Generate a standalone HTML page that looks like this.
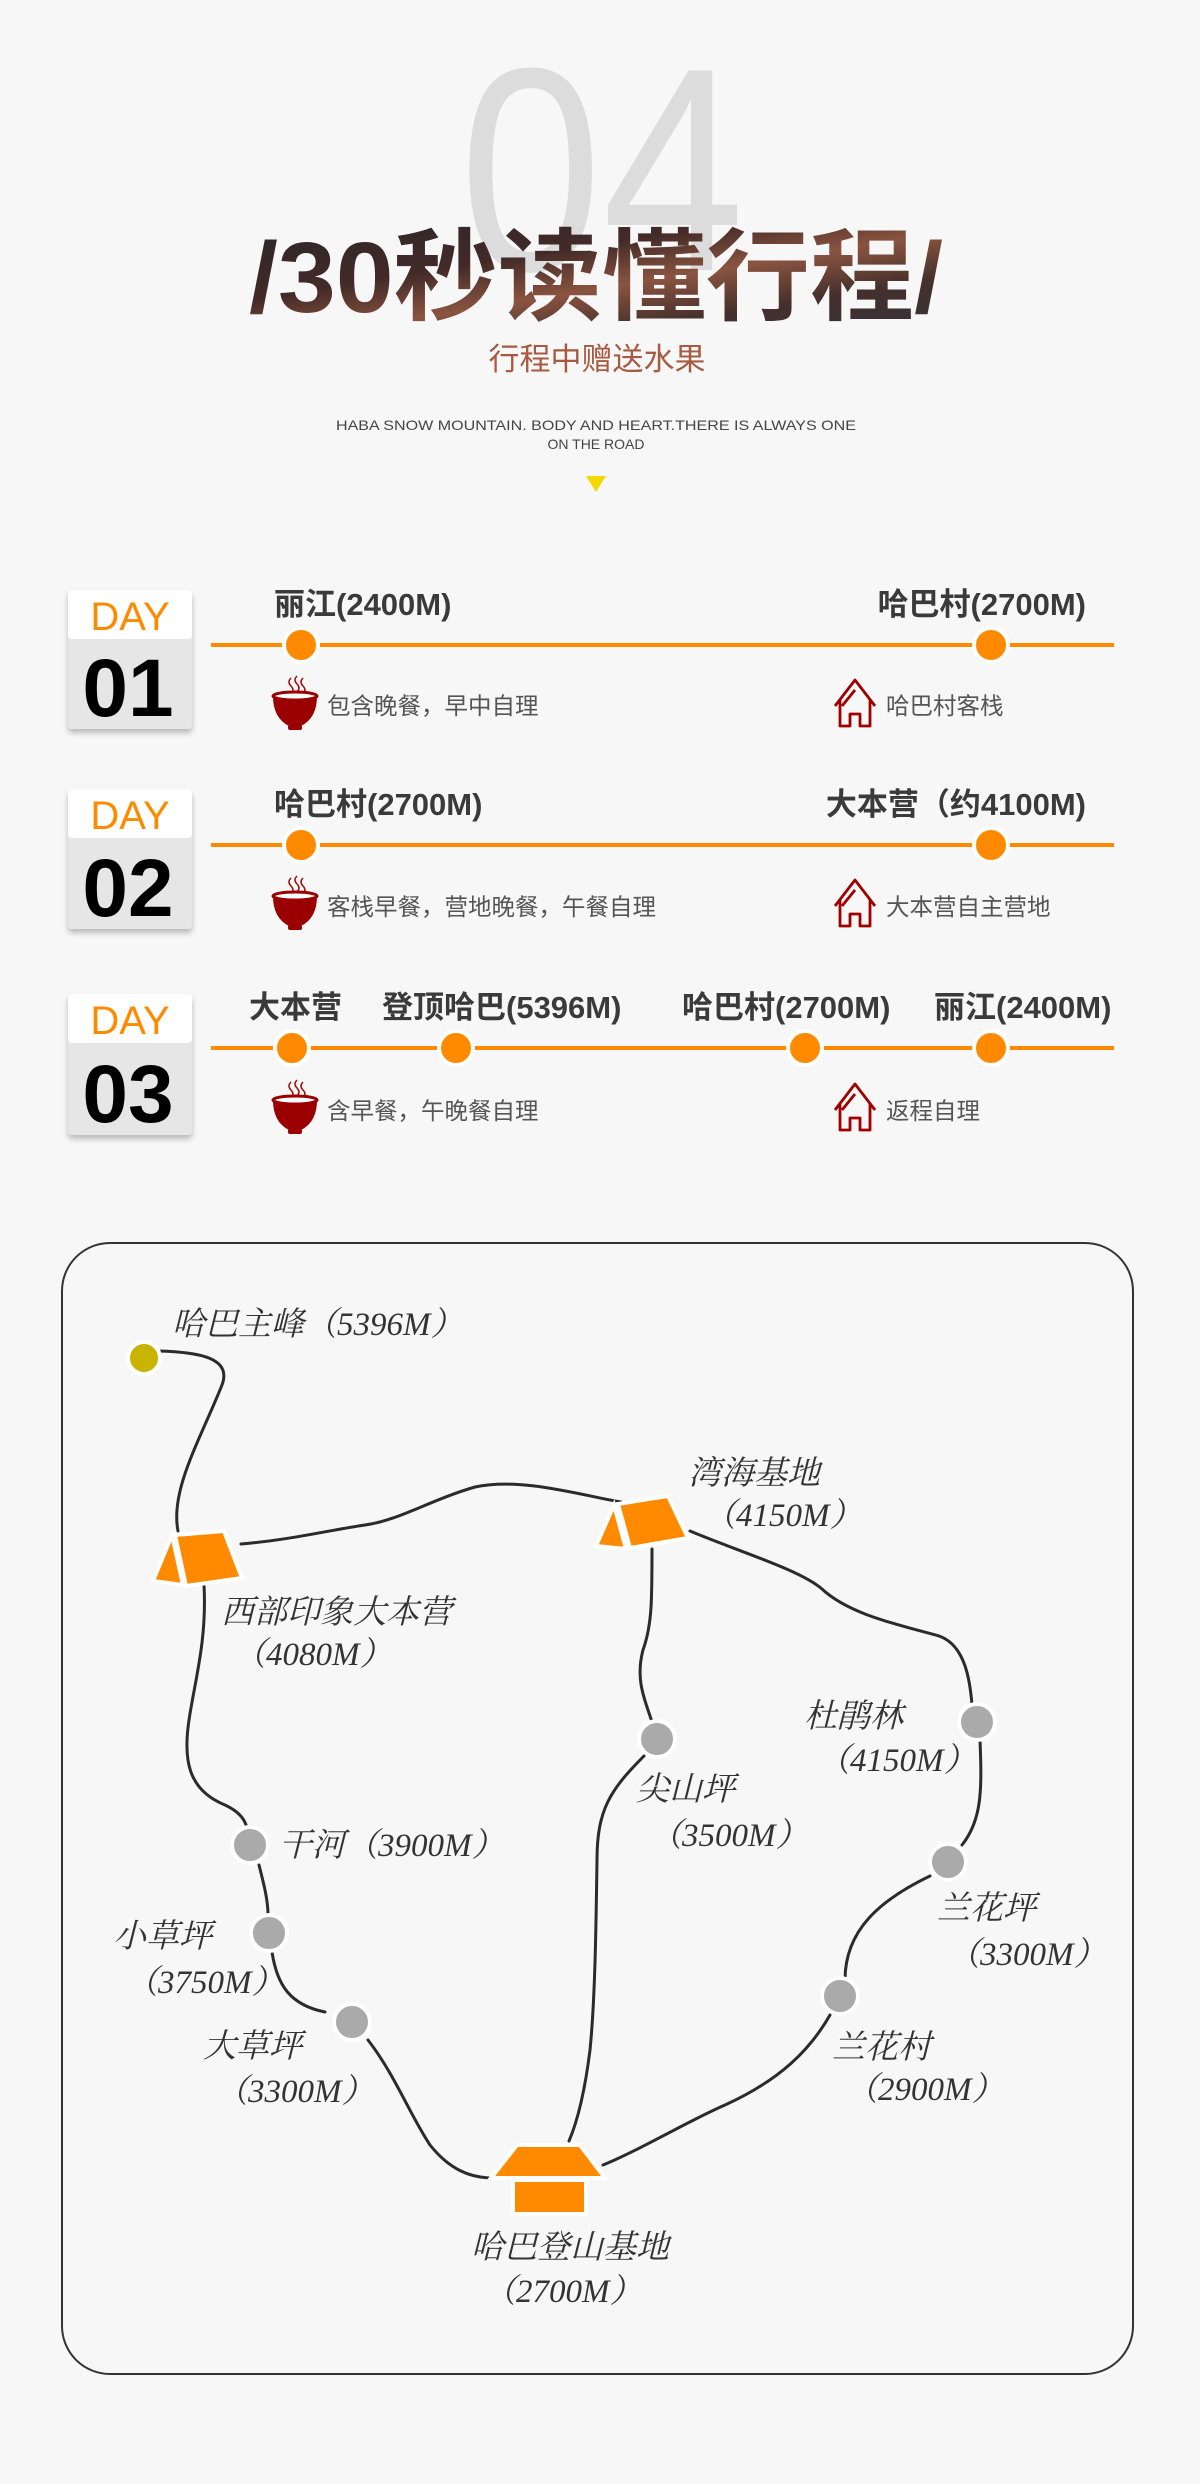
<!DOCTYPE html>
<html><head><meta charset="utf-8"><style>
html,body{margin:0;padding:0;background:#f7f7f7;}
svg{display:block;}
.cn{font-family:"Liberation Sans","Noto Sans CJK SC",sans-serif;}
.lb{font-family:"Liberation Sans","Noto Sans CJK SC",sans-serif;font-weight:bold;font-size:31px;fill:#3a3a3a;}
.it{font-family:"Liberation Sans","Noto Sans CJK SC",sans-serif;font-size:23.5px;fill:#555;}
.mp{font-family:"Liberation Serif","Noto Serif CJK SC",serif;font-style:italic;font-size:33px;fill:#333;}
</style></head><body>
<svg width="1200" height="2484" viewBox="0 0 1200 2484" xmlns="http://www.w3.org/2000/svg">
<defs>
<linearGradient id="tg" x1="0" y1="0" x2="1" y2="1">
<stop offset="0" stop-color="#2a2628"/><stop offset="0.35" stop-color="#432a28"/>
<stop offset="0.55" stop-color="#8a5440"/><stop offset="0.75" stop-color="#45302c"/><stop offset="1" stop-color="#33333c"/>
</linearGradient>
<filter id="sh" x="-20%" y="-20%" width="140%" height="150%"><feDropShadow dx="0" dy="4" stdDeviation="3" flood-color="#000" flood-opacity="0.25"/></filter>
<g id="bowl">
<path d="M-3,-24 q-4,4 0,8 q4,4 0,8 M3,-26 q-4,4 0,8 q4,4 0,8 M9,-24 q-4,4 0,8 q4,4 0,8" stroke="#a01010" stroke-width="1.5" fill="none"/>
<path d="M-21,-6 h44 q0,22 -16,30 h-12 q-16,-8 -16,-30z" fill="#9b0000"/>
<ellipse cx="1" cy="-6" rx="22" ry="4" fill="#fff" stroke="#9b0000" stroke-width="3"/>
<rect x="-6" y="23" width="14" height="5" rx="2" fill="#9b0000"/>
</g>
<g id="house" fill="none" stroke="#a00000" stroke-width="2.8" stroke-linejoin="round">
<path d="M-20,4 L0,-22 L20,4 M-15,-2 V24 H-5 V12 H5 V24 H15 V-2"/>
<path d="M-13,4 L0,-12"/>
</g>
</defs>

<!-- header -->
<text x="602" y="270" text-anchor="middle" font-family="Liberation Sans,sans-serif" font-size="290" fill="#dcdcdc" textLength="285" lengthAdjust="spacingAndGlyphs">04</text>
<text x="596" y="312" text-anchor="middle" class="cn" font-weight="bold" font-size="100" fill="url(#tg)" textLength="694" lengthAdjust="spacingAndGlyphs">/30秒读懂行程/</text>
<text x="597" y="370" text-anchor="middle" class="cn" font-size="31" fill="#a85a40">行程中赠送水果</text>
<text x="596" y="430" text-anchor="middle" class="cn" font-size="14" fill="#444" textLength="520" lengthAdjust="spacingAndGlyphs">HABA SNOW MOUNTAIN. BODY AND HEART.THERE IS ALWAYS ONE</text>
<text x="596" y="449" text-anchor="middle" class="cn" font-size="14" fill="#444">ON THE ROAD</text>
<polygon points="586,476 606,476 596,492" fill="#f5d800"/>

<!-- DAY 01 -->
<g filter="url(#sh)"><rect x="68" y="590" width="124" height="139" rx="4" fill="#e6e6e6"/></g>
<rect x="68" y="590" width="124" height="49" rx="4" fill="#fff"/>
<text x="130" y="630" text-anchor="middle" class="cn" font-size="40" fill="#ff8a00">DAY</text>
<text x="128" y="716" text-anchor="middle" class="cn" font-weight="bold" font-size="82" fill="#000">01</text>
<line x1="211" y1="645" x2="1114" y2="645" stroke="#ff8a00" stroke-width="4"/>
<circle cx="301" cy="645" r="17" fill="#ff8a00" stroke="#fff" stroke-width="4"/>
<circle cx="991" cy="645" r="17" fill="#ff8a00" stroke="#fff" stroke-width="4"/>
<text x="274" y="615" class="lb">丽江(2400M)</text>
<text x="1086" y="615" text-anchor="end" class="lb">哈巴村(2700M)</text>
<use href="#bowl" x="294" y="702"/>
<text x="327" y="714" class="it">包含晚餐，早中自理</text>
<use href="#house" x="855" y="702"/>
<text x="886" y="714" class="it">哈巴村客栈</text>

<!-- DAY 02 -->
<g filter="url(#sh)"><rect x="68" y="789" width="124" height="140" rx="4" fill="#e6e6e6"/></g>
<rect x="68" y="789" width="124" height="49" rx="4" fill="#fff"/>
<text x="130" y="829" text-anchor="middle" class="cn" font-size="40" fill="#ff8a00">DAY</text>
<text x="128" y="916" text-anchor="middle" class="cn" font-weight="bold" font-size="82" fill="#000">02</text>
<line x1="211" y1="845" x2="1114" y2="845" stroke="#ff8a00" stroke-width="4"/>
<circle cx="301" cy="845" r="17" fill="#ff8a00" stroke="#fff" stroke-width="4"/>
<circle cx="991" cy="845" r="17" fill="#ff8a00" stroke="#fff" stroke-width="4"/>
<text x="274" y="815" class="lb">哈巴村(2700M)</text>
<text x="1086" y="815" text-anchor="end" class="lb">大本营（约4100M)</text>
<use href="#bowl" x="294" y="902"/>
<text x="327" y="915" class="it">客栈早餐，营地晚餐，午餐自理</text>
<use href="#house" x="855" y="902"/>
<text x="886" y="915" class="it">大本营自主营地</text>

<!-- DAY 03 -->
<g filter="url(#sh)"><rect x="68" y="994" width="124" height="141" rx="4" fill="#e6e6e6"/></g>
<rect x="68" y="994" width="124" height="49" rx="4" fill="#fff"/>
<text x="130" y="1034" text-anchor="middle" class="cn" font-size="40" fill="#ff8a00">DAY</text>
<text x="128" y="1122" text-anchor="middle" class="cn" font-weight="bold" font-size="82" fill="#000">03</text>
<line x1="211" y1="1048" x2="1114" y2="1048" stroke="#ff8a00" stroke-width="4"/>
<circle cx="292" cy="1048" r="17" fill="#ff8a00" stroke="#fff" stroke-width="4"/>
<circle cx="456" cy="1048" r="17" fill="#ff8a00" stroke="#fff" stroke-width="4"/>
<circle cx="805" cy="1048" r="17" fill="#ff8a00" stroke="#fff" stroke-width="4"/>
<circle cx="991" cy="1048" r="17" fill="#ff8a00" stroke="#fff" stroke-width="4"/>
<text x="249" y="1018" class="lb">大本营</text>
<text x="382" y="1018" class="lb">登顶哈巴(5396M)</text>
<text x="682" y="1018" class="lb">哈巴村(2700M)</text>
<text x="934" y="1018" class="lb">丽江(2400M)</text>
<use href="#bowl" x="294" y="1106"/>
<text x="327" y="1119" class="it">含早餐，午晚餐自理</text>
<use href="#house" x="855" y="1106"/>
<text x="886" y="1119" class="it">返程自理</text>

<!-- map -->
<rect x="62" y="1243" width="1071" height="1131" rx="48" fill="#f7f7f7" stroke="#333" stroke-width="2"/>
<g fill="none" stroke="#2b2b2b" stroke-width="3" stroke-linecap="round">
<path d="M158,1351 C200,1352 232,1358 222,1385 C200,1440 170,1490 178,1531"/>
<path d="M241,1544 C290,1540 330,1530 365,1525 C400,1520 430,1500 475,1487 C520,1477 580,1495 621,1502"/>
<path d="M690,1531 C740,1552 800,1570 822,1589 C850,1615 900,1625 939,1636 C965,1645 970,1680 972,1705"/>
<path d="M980,1740 C982,1790 982,1820 962,1845"/>
<path d="M930,1876 C880,1900 845,1930 845,1980"/>
<path d="M830,2015 C810,2050 780,2080 725,2105 C690,2120 640,2150 603,2165"/>
<path d="M652,1549 C652,1600 652,1625 643,1650 C635,1680 645,1700 652,1722"/>
<path d="M644,1756 C610,1790 597,1810 597,1860 C596,1930 595,2000 590,2050 C585,2090 578,2120 569,2141"/>
<path d="M204,1585 C207,1640 195,1680 189,1720 C183,1760 188,1790 225,1805 C240,1812 245,1820 247,1828"/>
<path d="M259,1865 C264,1885 268,1900 268,1915"/>
<path d="M272,1952 C277,1985 290,2005 325,2012"/>
<path d="M368,2040 C395,2075 410,2115 430,2145 C450,2170 470,2177 489,2178"/>
</g>
<circle cx="144" cy="1358" r="16" fill="#c8b400" stroke="#fff" stroke-width="4"/>
<circle cx="977" cy="1722" r="18" fill="#aaa" stroke="#fff" stroke-width="4"/>
<circle cx="948" cy="1862" r="18" fill="#aaa" stroke="#fff" stroke-width="4"/>
<circle cx="840" cy="1996" r="18" fill="#aaa" stroke="#fff" stroke-width="4"/>
<circle cx="657" cy="1739" r="18" fill="#aaa" stroke="#fff" stroke-width="4"/>
<circle cx="250" cy="1845" r="18" fill="#aaa" stroke="#fff" stroke-width="4"/>
<circle cx="269" cy="1933" r="18" fill="#aaa" stroke="#fff" stroke-width="4"/>
<circle cx="352" cy="2022" r="18" fill="#aaa" stroke="#fff" stroke-width="4"/>
<!-- tents -->
<g stroke="#fff" stroke-width="4" stroke-linejoin="miter" fill="#ff8a00">
<polygon points="153,1581 172,1535 183,1585"/>
<polygon points="175,1535 224,1531 242,1578 186,1586"/>
<polygon points="596,1546 614,1505 626,1549"/>
<polygon points="618,1504 668,1496 688,1538 630,1548"/>
<polygon points="491,2178 517,2145 580,2145 605,2178"/>
<rect x="513" y="2180" width="73" height="34"/>
</g>
<!-- map labels -->
<text x="172" y="1335" class="mp">哈巴主峰（5396M）</text>
<text x="688" y="1484" class="mp">湾海基地</text>
<text x="703" y="1526" class="mp">（4150M）</text>
<text x="221" y="1623" class="mp">西部印象大本营</text>
<text x="233" y="1665" class="mp">（4080M）</text>
<text x="804" y="1727" class="mp">杜鹃林</text>
<text x="817" y="1771" class="mp">（4150M）</text>
<text x="636" y="1800" class="mp">尖山坪</text>
<text x="649" y="1846" class="mp">（3500M）</text>
<text x="279" y="1856" class="mp">干河（3900M）</text>
<text x="113" y="1947" class="mp">小草坪</text>
<text x="125" y="1993" class="mp">（3750M）</text>
<text x="203" y="2057" class="mp">大草坪</text>
<text x="215" y="2102" class="mp">（3300M）</text>
<text x="937" y="1919" class="mp">兰花坪</text>
<text x="947" y="1965" class="mp">（3300M）</text>
<text x="832" y="2058" class="mp">兰花村</text>
<text x="845" y="2100" class="mp">（2900M）</text>
<text x="471" y="2258" class="mp">哈巴登山基地</text>
<text x="483" y="2302" class="mp">（2700M）</text>
</svg>
</body></html>
